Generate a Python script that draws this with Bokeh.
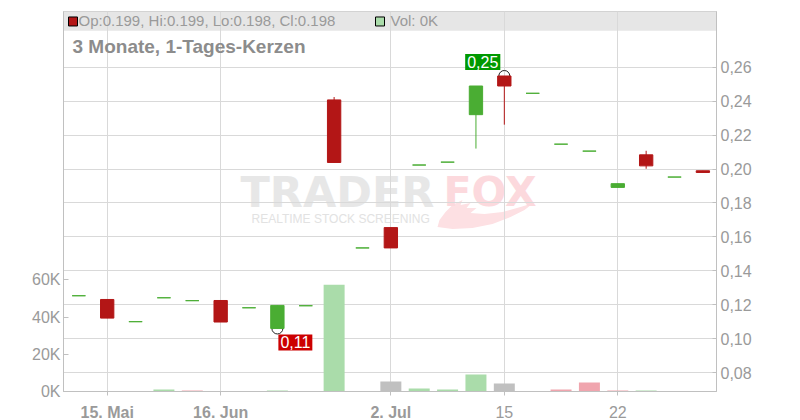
from bokeh.plotting import figure
from bokeh.layouts import column
from bokeh.models import (Range1d, LinearAxis, FixedTicker, CustomJSTickFormatter, Label,
                          CustomLabelingPolicy)
from bokeh.core.properties import value
from bokeh.embed import file_html
from bokeh.resources import INLINE

# ---------------- data ----------------
opens = [0.1253, 0.1231, 0.1100, 0.1241, 0.1224, 0.1225, 0.1182, 0.1060, 0.1194, 0.2408, 0.1535, 0.1655,
         0.2024, 0.2041, 0.2321, 0.2549, 0.2447, 0.2147, 0.2106, 0.1892, 0.2084, 0.1953, 0.199]
highs = [0.1253, 0.1231, 0.1100, 0.1241, 0.1224, 0.1225, 0.1182, 0.1196, 0.1194, 0.2425, 0.1535, 0.1655,
         0.2024, 0.2041, 0.2490, 0.2549, 0.2447, 0.2147, 0.2106, 0.1914, 0.2108, 0.1953, 0.199]
lows = [0.1253, 0.1121, 0.1100, 0.1241, 0.1224, 0.1098, 0.1182, 0.1060, 0.1194, 0.2039, 0.1535, 0.1535,
        0.2024, 0.2041, 0.2121, 0.2262, 0.2447, 0.2147, 0.2106, 0.1892, 0.2002, 0.1953, 0.198]
closes = [0.1253, 0.1121, 0.1100, 0.1241, 0.1224, 0.1098, 0.1182, 0.1196, 0.1194, 0.2039, 0.1535, 0.1535,
          0.2024, 0.2041, 0.2490, 0.2490, 0.2447, 0.2147, 0.2106, 0.1914, 0.2019, 0.1953, 0.198]
volumes = [0, 0, 0, 1100, 500, 0, 0, 500, 0, 57400, 0, 5400,
           1600, 1100, 9100, 4300, 0, 1100, 4800, 500, 500, 0, 0]

tick_pos = [1, 5, 11, 15, 19]
tick_labels = ["15. Mai", "16. Jun", "2. Jul", "15", "22"]
tick_bold = [True, True, True, False, False]
price_ticks = [0.08, 0.10, 0.12, 0.14, 0.16, 0.18, 0.20, 0.22, 0.24, 0.26]
vol_ticks = [0, 20000, 40000, 60000]

title_text = "3 Monate, 1-Tages-Kerzen"

# ---------------- styles ----------------
UP = "#4aad33"
DOWN = "#b31616"
VOL_UP = "#aadcaa"
VOL_DOWN = "#f0a5ae"
VOL_EQ = "#c0c0c0"
GRID = "#d9d9d9"
AXIS = "#c0c0c0"
TXT = "#9a9a9a"
FONT = "Liberation Sans"

n = len(opens)
idx = list(range(n))

W, H_MAIN, H_LAB = 800, 399, 21
# frame geometry (page pixels)
FL, FR, FT, FB = 63, 716, 11, 392
x0, x1 = -0.54, 22.48
y0, y1 = 0.08 - 19 / 1700, 0.08 + 362 / 1700
v1 = (FB - FT) * 20000 / 37.3

# watermark fox-tail outline (page pixels, decoration only)
TAIL_PX = [(437, 227), (452, 229), (472, 228), (492, 224), (510, 217), (524, 210), (533, 203),
           (520, 207), (502, 212), (484, 214), (470, 213), (476, 208), (466, 208), (470, 203),
           (460, 205), (462, 200), (452, 205), (445, 212), (439, 220)]


def px_x(px):
    return x0 + (px - FL) / (FR - FL) * (x1 - x0)


def px_y(py):
    return y0 + (FB - py) / (FB - FT) * (y1 - y0)


p = figure(width=W, height=H_MAIN, output_backend="svg", toolbar_location=None,
           x_range=Range1d(x0, x1), y_range=Range1d(y0, y1), y_axis_location="right",
           min_border_left=FL, min_border_right=W - FR, min_border_top=FT,
           min_border_bottom=H_MAIN - FB)
p.extra_y_ranges = {"vol": Range1d(0, v1)}
p.outline_line_color = AXIS
p.background_fill_color = "white"
p.border_fill_color = "white"

# header band
p.quad(left=[x0 - 5], right=[x1 + 5], bottom=[px_y(30.3)], top=[y1 + 1],
       fill_color="#e6e6e6", line_color=None, level="image")

# watermark
p.patch(x=[px_x(a) for a, b in TAIL_PX], y=[px_y(b) for a, b in TAIL_PX],
        fill_color="#fde0e3", line_color=None, level="image")
p.add_layout(Label(x=177, y=FB - 192.5, x_units="screen", y_units="screen", text="TRADER",
                   text_font="DejaVu Sans", text_font_style="bold", text_font_size="43px",
                   text_color="#e7e7e7", text_baseline="middle", level="image"))
p.add_layout(Label(x=380, y=FB - 192.5, x_units="screen", y_units="screen", text="FOX",
                   text_font="DejaVu Sans", text_font_style="bold", text_font_size="41px",
                   text_color="#fcd9dd", text_baseline="middle", level="image"))
p.add_layout(Label(x=188, y=FB - 219, x_units="screen", y_units="screen", text="REALTIME STOCK SCREENING",
                   text_font=FONT, text_font_size="12px", text_color="#e2e2e2",
                   text_baseline="middle", level="image"))

# x axis: ticks only (labels are drawn in the strip below)
xa = p.xaxis[0]
xa.ticker = FixedTicker(ticks=tick_pos)
xa.major_label_text_font_size = "1px"
xa.major_label_standoff = 0
xa.major_label_policy = CustomLabelingPolicy(
    code="for (const i of Array.from(indices)) { indices.unset(i) } return indices")
xa.axis_line_color = AXIS
xa.major_tick_line_color = AXIS
xa.major_tick_out = 4
xa.major_tick_in = 0
xa.minor_tick_line_color = None
p.xgrid.ticker = FixedTicker(ticks=tick_pos)
p.xgrid.grid_line_color = GRID

ry = p.yaxis[0]
ry.ticker = FixedTicker(ticks=price_ticks)
ry.formatter = CustomJSTickFormatter(code="return tick.toFixed(2).replace('.', ',');")
ry.major_label_text_font = FONT
ry.major_label_text_font_size = "16px"
ry.major_label_text_color = TXT
ry.major_label_standoff = 4
ry.axis_line_color = AXIS
ry.major_tick_line_color = AXIS
ry.major_tick_in = 4
ry.major_tick_out = 0
ry.minor_tick_line_color = None
p.ygrid.ticker = FixedTicker(ticks=price_ticks)
p.ygrid.grid_line_color = GRID

ly = LinearAxis(y_range_name="vol", ticker=FixedTicker(ticks=vol_ticks),
                formatter=CustomJSTickFormatter(code="return (tick/1000).toFixed(0) + 'K';"))
ly.major_label_text_font = FONT
ly.major_label_text_font_size = "16px"
ly.major_label_text_color = TXT
ly.major_label_standoff = 3
ly.axis_line_color = AXIS
ly.major_tick_line_color = AXIS
ly.major_tick_in = 5
ly.major_tick_out = 0
ly.minor_tick_line_color = None
p.add_layout(ly, "left")

# volume bars (colour by change of close)
vcols = []
for i in range(n):
    if i == 0 or closes[i] == closes[i - 1]:
        vcols.append(VOL_EQ)
    elif closes[i] > closes[i - 1]:
        vcols.append(VOL_UP)
    else:
        vcols.append(VOL_DOWN)
p.vbar(x=idx, top=volumes, bottom=0, width=0.74, fill_color=vcols, line_color=None, y_range_name="vol")

# high / low markers
imax = max(range(n), key=lambda i: highs[i])
imin = min(range(n), key=lambda i: lows[i])
p.scatter(x=[imax, imin], y=[highs[imax], lows[imin]], size=11, fill_color=None,
          line_color="#222222", line_width=1)

# candles
cols = [DOWN if c < o else UP for o, c in zip(opens, closes)]
p.segment(x0=idx, y0=lows, x1=idx, y1=highs, line_color=cols, line_width=1)
p.vbar(x=idx, top=[max(o, c) for o, c in zip(opens, closes)],
       bottom=[min(o, c) for o, c in zip(opens, closes)], width=0.47,
       fill_color=cols, line_color=cols, line_width=1)

# high / low value tags
p.add_layout(Label(x=imax, y=highs[imax], x_offset=-4, y_offset=6,
                   text=f"{highs[imax]:.2f}".replace(".", ","), text_font=FONT, text_font_size="16px",
                   text_color="white", text_align="right", text_baseline="bottom",
                   background_fill_color="#009900", padding=2))
p.add_layout(Label(x=imin, y=lows[imin], x_offset=1, y_offset=-6,
                   text=f"{lows[imin]:.2f}".replace(".", ","), text_font=FONT, text_font_size="16px",
                   text_color="white", text_align="left", text_baseline="top",
                   background_fill_color="#cc0000", padding=2))

# header legend
last = n - 1
p.rect(x=[px_x(72.5)], y=[px_y(21)], width=9, height=9, width_units="screen", height_units="screen",
       fill_color=cols[last], line_color="black", line_width=1)
p.rect(x=[px_x(379.5)], y=[px_y(21)], width=9, height=9, width_units="screen", height_units="screen",
       fill_color=vcols[last], line_color="black", line_width=1)
p.add_layout(Label(x=78 - FL, y=FB - 21, x_units="screen", y_units="screen",
                   text=f"Op:{opens[last]:.3f}, Hi:{highs[last]:.3f}, Lo:{lows[last]:.3f}, Cl:{closes[last]:.3f}",
                   text_font=FONT, text_font_size="15px", text_color=TXT, text_baseline="middle"))
p.add_layout(Label(x=390 - FL, y=FB - 21, x_units="screen", y_units="screen",
                   text=f"Vol: {volumes[last] / 1000:.0f}K",
                   text_font=FONT, text_font_size="15px", text_color=TXT, text_baseline="middle"))
p.add_layout(Label(x=72 - FL, y=FB - 47, x_units="screen", y_units="screen", text=title_text,
                   text_font=FONT, text_font_size="19px", text_font_style="bold", text_color="#8c8c8c",
                   text_baseline="middle"))

# ---------------- x tick label strip (mixed bold/normal labels) ----------------
q = figure(width=W, height=H_LAB, output_backend="svg", toolbar_location=None,
           x_range=p.x_range, y_range=Range1d(0, H_LAB), x_axis_location=None, y_axis_location=None,
           min_border_left=FL, min_border_right=W - FR, min_border_top=0, min_border_bottom=0)
q.grid.visible = False
q.outline_line_color = None
q.background_fill_color = "white"
q.border_fill_color = "white"
base_y = H_LAB - (411.7 - H_MAIN)
bx = [t for t, b in zip(tick_pos, tick_bold) if b]
bl = [t for t, b in zip(tick_labels, tick_bold) if b]
nx = [t for t, b in zip(tick_pos, tick_bold) if not b]
nl = [t for t, b in zip(tick_labels, tick_bold) if not b]
q.text(x=bx, y=[base_y] * len(bx), text=bl, text_font=value(FONT), text_font_size="16px",
       text_font_style="bold", text_color=TXT, text_align="center", text_baseline="alphabetic")
q.text(x=nx, y=[base_y] * len(nx), text=nl, text_font=value(FONT), text_font_size="16px",
       text_font_style="normal", text_color=TXT, text_align="center", text_baseline="alphabetic")

layout = column(p, q, spacing=0)
open("out.html", "w").write(file_html(layout, INLINE))
